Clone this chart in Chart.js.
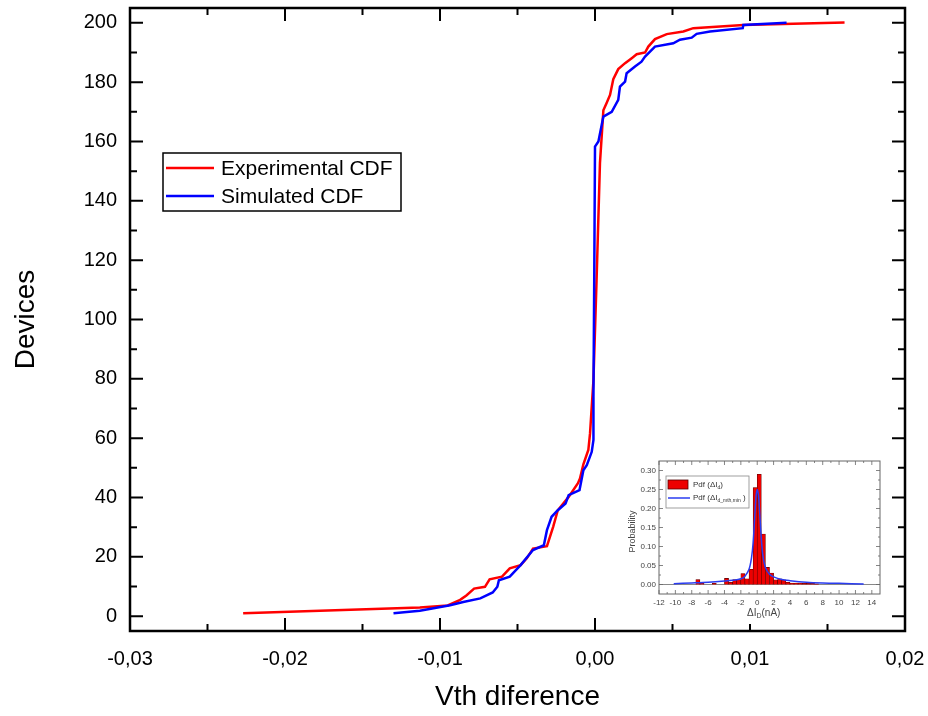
<!DOCTYPE html>
<html>
<head>
<meta charset="utf-8">
<script src="https://cdn.jsdelivr.net/npm/chart.js@4.4.1/dist/chart.umd.min.js"></script>
<style>
  html, body { margin: 0; padding: 0; background: #fff; }
  #wrap { position: relative; width: 928px; height: 716px; }
  #main { position: absolute; left: 0; top: 0; }
  #inset { position: absolute; left: 620px; top: 452px; }
</style>
</head>
<body>
<div id="wrap">
  <canvas id="main" width="928" height="716"></canvas>
  <canvas id="inset" width="268" height="172"></canvas>
</div>
<script>
const FONT = '"Liberation Sans", Arial, sans-serif';

// main chart: cumulative counts vs Vth difference
const expDiff = [-0.0227, -0.0113, -0.0095, -0.0087, -0.0083, -0.0078, -0.0071, -0.0068, -0.0060, -0.0055,
  -0.0048, -0.0044, -0.0040, -0.0031, -0.0027, -0.0024, -0.0017, -0.0011, -0.00097, -0.00075,
  -0.00043, -0.00032, -0.0001, 0.0001, 0.00032, 0.00054, 0.00075, 0.00097, 0.00118, 0.0015,
  0.00194, 0.00237, 0.00269, 0.00323, 0.00344, 0.00387, 0.00463, 0.0057, 0.00634, 0.00957,
  0.0128, 0.0161];
const expCount = [1, 2.9, 3.6, 5.5, 7, 9.3, 9.9, 12.4, 13.3, 16.1,
  17.2, 19.5, 22.8, 23.6, 30.1, 35.7, 40.2, 44.8, 46.4, 51.2,
  56, 61.6, 79.6, 113, 152.7, 170.5, 173, 175.7, 181, 184.4,
  186.4, 188.1, 189.4, 190, 192, 194.5, 196.2, 197.1, 198.2, 199.3,
  199.7, 200.1];

const simDiff = [-0.0130, -0.0113, -0.00935, -0.0085, -0.0074, -0.0066, -0.0063, -0.0062, -0.0055, -0.0048,
  -0.0040, -0.0033, -0.0031, -0.0028, -0.0024, -0.0019, -0.0017, -0.0010, -0.00075, -0.00053,
  -0.00021, -0.0001, -0.0001, -0.00005, 0, 0.00022, 0.00054, 0.00108, 0.0015, 0.00161,
  0.00194, 0.00204, 0.00258, 0.003, 0.00323, 0.00355, 0.00387, 0.00505, 0.00548, 0.00624,
  0.00656, 0.00742, 0.00953, 0.00957, 0.01236];
const simCount = [1, 1.8, 3.7, 4.8, 6, 8, 9.9, 12.1, 13.3, 17.2,
  22.3, 23.9, 29, 33.5, 35.7, 38, 40.8, 42.5, 49.2, 50.9,
  55.4, 59.4, 74, 113, 158.3, 160, 168.4, 170, 174, 178.5,
  180.2, 183, 185.3, 186.9, 188.6, 190.3, 192, 193.1, 194.3, 195,
  196.3, 197.1, 198.2, 199.3, 200];

const xMajor = [-0.03, -0.02, -0.01, 0, 0.01, 0.02];
const xMinor = [-0.025, -0.015, -0.005, 0.005, 0.015];
const yMajor = [0, 20, 40, 60, 80, 100, 120, 140, 160, 180, 200];
const yMinor = [10, 30, 50, 70, 90, 110, 130, 150, 170, 190];

// inset: histogram + fitted pdf
const binCenters = [-7.25, -6.75, -5.25, -3.75, -3.25, -2.75, -2.25, -1.75, -1.25, -0.75, -0.25, 0.25, 0.75,
  1.25, 1.75, 2.25, 2.75, 3.25, 3.75, 4.25, 4.75, 5.25, 5.75, 6.25, 6.75, 7.25];
const binProb = [0.013, 0.004, 0.003, 0.016, 0.006, 0.013, 0.013, 0.029, 0.015, 0.04, 0.255, 0.29, 0.133,
  0.045, 0.03, 0.012, 0.015, 0.012, 0.006, 0.004, 0.004, 0.004, 0.003, 0.003, 0.003, 0.002];
const fitX = [-10.2, -8, -6, -4, -3, -2, -1.5, -1, -0.7, -0.5, -0.3, -0.15, 0, 0.15, 0.3, 0.5, 0.7, 1, 1.5, 2, 3, 4, 6, 8, 10, 13];
const fitY = [0.002, 0.004, 0.006, 0.009, 0.011, 0.015, 0.022, 0.04, 0.07, 0.11, 0.18, 0.23, 0.25, 0.235, 0.19, 0.12, 0.075, 0.045, 0.027, 0.02, 0.013, 0.01, 0.006, 0.004, 0.003, 0.001];
const insetXMajor = [-12, -10, -8, -6, -4, -2, 0, 2, 4, 6, 8, 10, 12, 14];
const insetXMinor = [-11, -9, -7, -5, -3, -1, 1, 3, 5, 7, 9, 11, 13];
const insetYMajor = [0, 0.05, 0.1, 0.15, 0.2, 0.25, 0.3];
const insetYMinor = [0.025, 0.075, 0.125, 0.175, 0.225, 0.275];

const toPoints = (xs, ys) => xs.map((v, i) => ({x: v, y: ys[i]}));
const commaFmt = v => v.toFixed(2).replace('.', ',');
const noPad = s => { s.paddingTop = 0; s.paddingBottom = 0; s.paddingLeft = 0; s.paddingRight = 0; };

function drawTicks(ctx, a, x, y, o) {
  ctx.beginPath();
  const put = (vals, len, horiz) => vals.forEach(v => {
    if (horiz) {
      const px = x.getPixelForValue(v);
      ctx.moveTo(px, a.bottom); ctx.lineTo(px, a.bottom - len);
      ctx.moveTo(px, a.top); ctx.lineTo(px, a.top + len);
    } else {
      const py = y.getPixelForValue(v);
      ctx.moveTo(a.left, py); ctx.lineTo(a.left + len, py);
      ctx.moveTo(a.right, py); ctx.lineTo(a.right - len, py);
    }
  });
  put(o.xMajor, o.major, true);
  put(o.xMinor, o.minor, true);
  put(o.yMajor, o.major, false);
  put(o.yMinor, o.minor, false);
  ctx.stroke();
}

const mainDecor = {
  id: 'mainDecor',
  afterDraw(chart) {
    const {ctx, chartArea: a, scales: {x, y}} = chart;
    ctx.save();
    ctx.strokeStyle = '#000';
    ctx.lineWidth = 2;
    drawTicks(ctx, a, x, y, {xMajor, xMinor, yMajor, yMinor, major: 13, minor: 7});
    ctx.lineWidth = 2.5;
    ctx.strokeRect(a.left, a.top, a.right - a.left, a.bottom - a.top);

    // axis titles
    ctx.fillStyle = '#000';
    ctx.font = '28px ' + FONT;
    ctx.textAlign = 'center';
    ctx.textBaseline = 'middle';
    ctx.fillText('Vth diference', (a.left + a.right) / 2, 697);
    ctx.save();
    ctx.translate(26, (a.top + a.bottom) / 2);
    ctx.rotate(-Math.PI / 2);
    ctx.fillText('Devices', 0, 0);
    ctx.restore();

    // legend
    ctx.lineWidth = 1.5;
    ctx.strokeRect(163, 153, 238, 58);
    ctx.font = '21px ' + FONT;
    ctx.textAlign = 'left';
    const rows = [['Experimental CDF', '#ff0000', 168], ['Simulated CDF', '#0000ff', 196]];
    rows.forEach(([label, col, ly]) => {
      ctx.strokeStyle = col;
      ctx.lineWidth = 2.5;
      ctx.beginPath(); ctx.moveTo(166, ly); ctx.lineTo(214, ly); ctx.stroke();
      ctx.fillText(label, 221, ly + 1);
    });
    ctx.restore();
  }
};

new Chart(document.getElementById('main'), {
  type: 'scatter',
  data: {
    datasets: [
      { label: 'Experimental CDF', data: toPoints(expDiff, expCount), showLine: true,
        borderColor: '#ff0000', borderWidth: 2.5, pointRadius: 0, tension: 0, order: 2 },
      { label: 'Simulated CDF', data: toPoints(simDiff, simCount), showLine: true,
        borderColor: '#0000ff', borderWidth: 2.5, pointRadius: 0, tension: 0, order: 1 }
    ]
  },
  options: {
    responsive: false,
    animation: false,
    layout: { padding: { top: 8, right: 23, left: 0, bottom: 0 } },
    plugins: { legend: { display: false }, tooltip: { enabled: false } },
    scales: {
      x: {
        type: 'linear', min: -0.03, max: 0.02,
        afterBuildTicks: s => { s.ticks = xMajor.map(v => ({value: v})); },
        afterFit: s => { s.height = 85; noPad(s); },
        grid: { display: false, drawTicks: false }, border: { display: false },
        ticks: { callback: v => commaFmt(v), font: { family: FONT, size: 20 }, color: '#000',
          padding: 16, maxRotation: 0, autoSkip: false }
      },
      y: {
        type: 'linear', min: -5, max: 205,
        afterBuildTicks: s => { s.ticks = yMajor.map(v => ({value: v})); },
        afterFit: s => { s.width = 130; noPad(s); },
        grid: { display: false, drawTicks: false }, border: { display: false },
        ticks: { font: { family: FONT, size: 20 }, color: '#000', padding: 13, autoSkip: false }
      }
    }
  },
  plugins: [mainDecor]
});

const insetDecor = {
  id: 'insetDecor',
  beforeDraw(chart) {
    const ctx = chart.ctx;
    ctx.save();
    ctx.fillStyle = '#fff';
    ctx.fillRect(0, 0, chart.width, chart.height);
    ctx.restore();
  },
  beforeDatasetsDraw(chart) {
    const {ctx, chartArea: a, scales: {y}} = chart;
    const py = y.getPixelForValue(0);
    ctx.save();
    ctx.strokeStyle = '#888';
    ctx.lineWidth = 1;
    ctx.beginPath(); ctx.moveTo(a.left, py); ctx.lineTo(a.right, py); ctx.stroke();
    ctx.restore();
  },
  afterDraw(chart) {
    const {ctx, chartArea: a, scales: {x, y}} = chart;
    ctx.save();
    ctx.strokeStyle = '#666';
    ctx.lineWidth = 0.8;
    drawTicks(ctx, a, x, y, {xMajor: insetXMajor, xMinor: insetXMinor, yMajor: insetYMajor, yMinor: insetYMinor, major: 4, minor: 2});
    ctx.lineWidth = 1;
    ctx.strokeRect(a.left, a.top, a.right - a.left, a.bottom - a.top);

    ctx.fillStyle = '#444';
    ctx.textBaseline = 'middle';
    // y title
    ctx.font = '9px ' + FONT;
    ctx.textAlign = 'center';
    ctx.save();
    ctx.translate(13, (a.top + a.bottom) / 2 + 4);
    ctx.rotate(-Math.PI / 2);
    ctx.fillText('Probability', 0, 0);
    ctx.restore();
    // x title: ΔI_D(nA)
    ctx.textAlign = 'left';
    let tx = 127, ty = 161;
    ctx.font = '10px ' + FONT;
    ctx.fillText('\u0394I', tx, ty); tx += ctx.measureText('\u0394I').width;
    ctx.font = '7px ' + FONT;
    ctx.fillText('D', tx, ty + 3); tx += ctx.measureText('D').width;
    ctx.font = '10px ' + FONT;
    ctx.fillText('(nA)', tx, ty);

    // legend
    ctx.strokeStyle = '#888';
    ctx.lineWidth = 0.8;
    ctx.strokeRect(46, 24, 83, 32);
    ctx.fillStyle = '#ee0000';
    ctx.fillRect(48, 28, 20, 9);
    ctx.strokeStyle = '#550000';
    ctx.strokeRect(48, 28, 20, 9);
    ctx.strokeStyle = '#2a3cf0';
    ctx.lineWidth = 1.5;
    ctx.beginPath(); ctx.moveTo(48, 46); ctx.lineTo(70, 46); ctx.stroke();
    ctx.fillStyle = '#333';
    const label = (lx, ly, sub, tail) => {
      ctx.font = '8px ' + FONT;
      ctx.fillText('Pdf (\u0394I', lx, ly); lx += ctx.measureText('Pdf (\u0394I').width;
      ctx.font = '5px ' + FONT;
      ctx.fillText(sub, lx, ly + 3); lx += ctx.measureText(sub).width;
      ctx.font = '8px ' + FONT;
      ctx.fillText(tail, lx, ly);
    };
    label(73, 33, 'd', ')');
    label(73, 46, 'd_mth,min', ' )');
    ctx.restore();
  }
};

new Chart(document.getElementById('inset'), {
  type: 'bar',
  data: {
    datasets: [
      { type: 'line', label: 'Pdf fit', data: toPoints(fitX, fitY), borderColor: '#2a3cf0',
        borderWidth: 1.5, pointRadius: 0, tension: 0.3, order: 1 },
      { type: 'bar', label: 'Pdf', data: toPoints(binCenters, binProb), backgroundColor: '#ee0000',
        borderColor: '#550000', borderWidth: 0.6, barPercentage: 1, categoryPercentage: 1, order: 2 }
    ]
  },
  options: {
    responsive: false,
    animation: false,
    layout: { padding: { top: 9, right: 8, left: 0, bottom: 0 } },
    plugins: { legend: { display: false }, tooltip: { enabled: false } },
    scales: {
      x: {
        type: 'linear', min: -12, max: 15, offset: false,
        afterBuildTicks: s => { s.ticks = insetXMajor.map(v => ({value: v})); },
        afterFit: s => { s.height = 30; noPad(s); },
        grid: { display: false, drawTicks: false, offset: false }, border: { display: false },
        ticks: { font: { family: FONT, size: 8 }, color: '#444', padding: 4, maxRotation: 0, autoSkip: false }
      },
      y: {
        type: 'linear', min: -0.025, max: 0.325,
        afterBuildTicks: s => { s.ticks = insetYMajor.map(v => ({value: v})); },
        afterFit: s => { s.width = 39; noPad(s); },
        grid: { display: false, drawTicks: false }, border: { display: false },
        ticks: { callback: v => v.toFixed(2), font: { family: FONT, size: 8 }, color: '#444', padding: 3, autoSkip: false }
      }
    }
  },
  plugins: [insetDecor]
});
</script>
</body>
</html>
